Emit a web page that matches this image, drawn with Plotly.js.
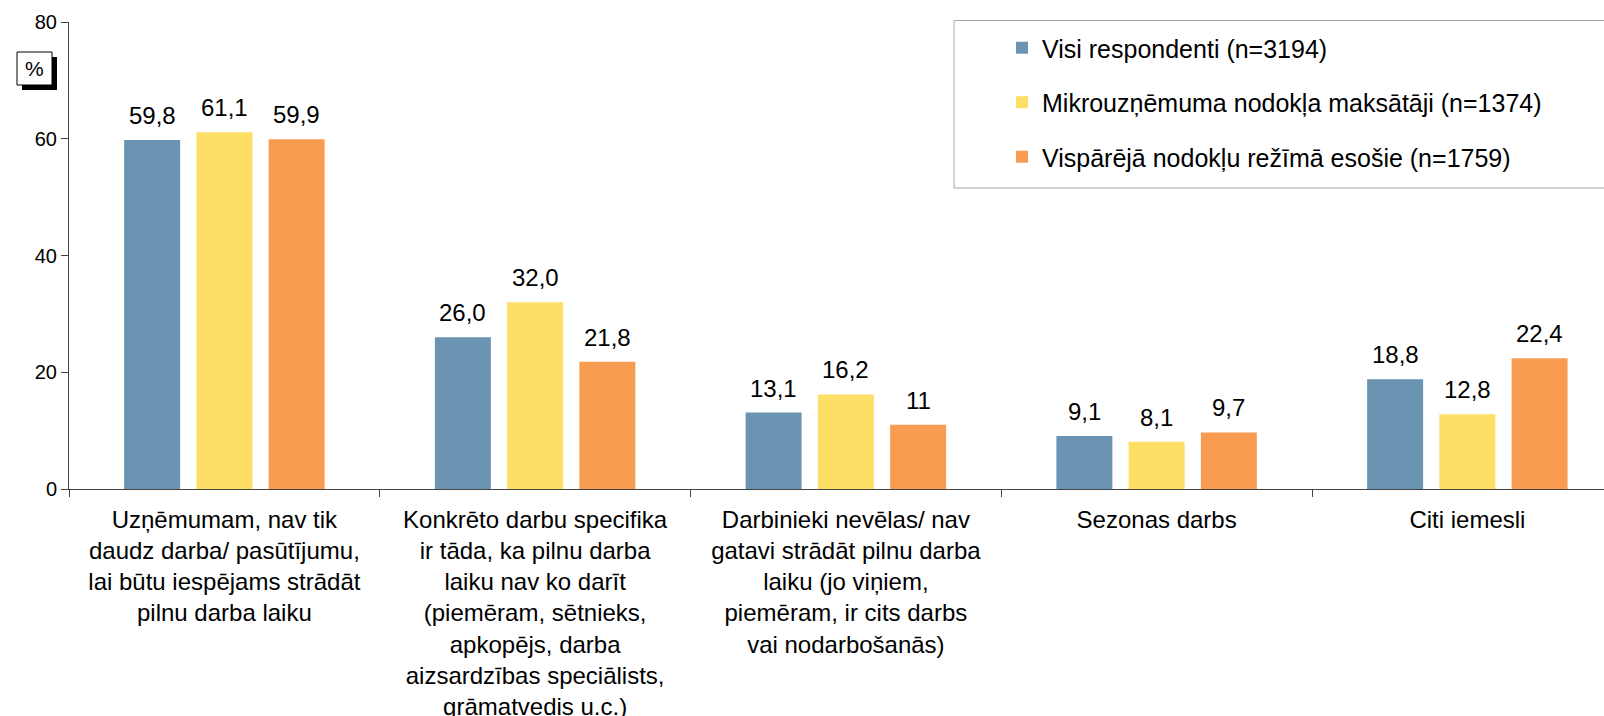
<!DOCTYPE html>
<html>
<head>
<meta charset="utf-8">
<script src="https://cdn.plot.ly/plotly-3.0.1.min.js"></script>
<style>
html,body{margin:0;padding:0;background:#fff;}
#chart{width:1604px;height:716px;}
</style>
</head>
<body>
<div id="chart"></div>
<script>
// ---- data ----
var categories = ["c1", "c2", "c3", "c4", "c5"];
var categoryLabels = [
  "Uzņēmumam, nav tik<br>daudz darba/ pasūtījumu,<br>lai būtu iespējams strādāt<br>pilnu darba laiku",
  "Konkrēto darbu specifika<br>ir tāda, ka pilnu darba<br>laiku nav ko darīt<br>(piemēram, sētnieks,<br>apkopējs, darba<br>aizsardzības speciālists,<br>grāmatvedis u.c.)",
  "Darbinieki nevēlas/ nav<br>gatavi strādāt pilnu darba<br>laiku (jo viņiem,<br>piemēram, ir cits darbs<br>vai nodarbošanās)",
  "Sezonas darbs",
  "Citi iemesli"
];
var seriesNames = [
  "Visi respondenti (n=3194)",
  "Mikrouzņēmuma nodokļa maksātāji (n=1374)",
  "Vispārējā nodokļu režīmā esošie (n=1759)"
];
var visiValues  = [59.8, 26.0, 13.1, 9.1, 18.8];
var mikroValues = [61.1, 32.0, 16.2, 8.1, 12.8];
var vispValues  = [59.9, 21.8, 11, 9.7, 22.4];
var visiLabels  = ["59,8", "26,0", "13,1", "9,1", "18,8"];
var mikroLabels = ["61,1", "32,0", "16,2", "8,1", "12,8"];
var vispLabels  = ["59,9", "21,8", "11", "9,7", "22,4"];
var yTickVals = [0, 20, 40, 60, 80];

// ---- styles ----
var FONT = "Liberation Sans, Arial, sans-serif";
var colors = ["#6B94B3", "#FCDF64", "#F89C51"];
var BARGAP = 0.3025, BARGROUPGAP = 0.225;
var allValues = [visiValues, mikroValues, vispValues];
var allLabels = [visiLabels, mikroLabels, vispLabels];

var traces = allValues.map(function(vals, i) {
  return {
    type: "bar",
    name: seriesNames[i],
    x: categories,
    y: vals,
    marker: {color: colors[i], line: {width: 0}},
    legendgroup: "g" + i,
    hoverinfo: "skip"
  };
});

// value labels placed above each bar through the axis scales
var nSeries = allValues.length;
var slot = (1 - BARGAP) / nSeries;
var valueAnnotations = [];
allValues.forEach(function(vals, j) {
  vals.forEach(function(v, i) {
    valueAnnotations.push({
      xref: "x", yref: "y",
      x: i + (j - (nSeries - 1) / 2) * slot,
      y: v,
      text: allLabels[j][i],
      showarrow: false,
      xanchor: "center", yanchor: "bottom",
      yshift: 9,
      font: {family: FONT, size: 24, color: "#000"}
    });
  });
});

// pixel helpers for decorations
var L = 69, R = 1604, T = 22, B = 489;
function px(x) { return (x - L) / (R - L); }
function py(y) { return (B - y) / (B - T); }

var layout = {
  width: 1604,
  height: 716,
  margin: {l: L, r: 1604 - R, t: T, b: 716 - B, autoexpand: false},
  paper_bgcolor: "#fff",
  plot_bgcolor: "#fff",
  font: {family: FONT, size: 20, color: "#000"},
  barmode: "group",
  bargap: BARGAP,
  bargroupgap: BARGROUPGAP,
  showlegend: true,
  legend: {
    x: px(1002), y: py(25), xanchor: "left", yanchor: "top",
    bgcolor: "rgba(0,0,0,0)", borderwidth: 0,
    font: {family: FONT, size: 25, color: "#000"},
    traceorder: "grouped", tracegroupgap: 19
  },
  xaxis: {
    type: "category",
    range: [-0.5, -0.5 + (R - L) / 310.75],
    tickmode: "array",
    tickvals: categories,
    ticktext: categoryLabels,
    tickson: "boundaries",
    ticks: "outside",
    ticklen: 7,
    tickcolor: "#444",
    ticklabelstandoff: 9,
    showline: true,
    linecolor: "#444",
    linewidth: 1,
    showgrid: false,
    zeroline: false,
    tickfont: {family: FONT, size: 24, color: "#000"},
    fixedrange: true
  },
  yaxis: {
    range: [0, 80],
    tickmode: "array",
    tickvals: yTickVals,
    ticks: "outside",
    ticklen: 7,
    tickcolor: "#444",
    showline: true,
    linecolor: "#444",
    linewidth: 1,
    showgrid: false,
    zeroline: false,
    tickfont: {family: FONT, size: 20, color: "#000"},
    fixedrange: true
  },
  shapes: [
    // legend frame (runs off the right edge as in the reference)
    {type: "rect", xref: "paper", yref: "paper", x0: px(954), x1: px(1640), y0: py(188), y1: py(20.5),
     line: {color: "#A6A6A6", width: 1}, fillcolor: "rgba(0,0,0,0)", layer: "below"},
    // "%" box shadow
    {type: "rect", xref: "paper", yref: "paper", x0: px(22), x1: px(57), y0: py(90), y1: py(57),
     line: {width: 0}, fillcolor: "#000"},
    // "%" box
    {type: "rect", xref: "paper", yref: "paper", x0: px(17), x1: px(52), y0: py(85), y1: py(52),
     line: {color: "#000", width: 1}, fillcolor: "#fff"}
  ],
  annotations: [
    {text: "%", xref: "paper", yref: "paper", x: px(34.5), y: py(68.5), showarrow: false,
     xanchor: "center", yanchor: "middle", font: {family: FONT, size: 21, color: "#000"}}
  ].concat(valueAnnotations)
};

Plotly.newPlot("chart", traces, layout, {displayModeBar: false, staticPlot: true});
</script>
</body>
</html>
